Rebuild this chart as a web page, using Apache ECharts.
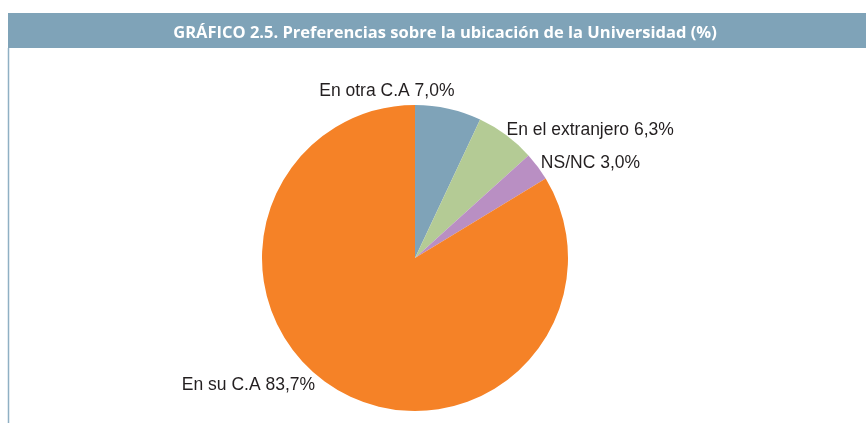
<!DOCTYPE html>
<html>
<head>
<meta charset="utf-8">
<script src="https://cdn.jsdelivr.net/npm/echarts@6/dist/echarts.min.js"></script>
<style>
  html, body { margin: 0; padding: 0; background: #fff; }
  #chart { width: 866px; height: 423px; }
</style>
</head>
<body>
<div id="chart"></div>
<script>
// data
var categories = ['En otra C.A', 'En el extranjero', 'NS/NC', 'En su C.A'];
var values = [7.0, 6.3, 3.0, 83.7];
var colors = ['#7fa3b8', '#b4cb95', '#b98fc3', '#f58227'];

// nudges for the labels, so they sit like in the original
var labelNudge = [[-135, -14], [-7, -2], [-5, -1], [-18, -10]];

var chart = echarts.init(document.getElementById('chart'));

var pieData = categories.map(function (c, i) {
  return { name: c, value: values[i], itemStyle: { color: colors[i] } };
});

chart.setOption({
  animation: false,
  title: {
    text: 'GRÁFICO 2.5. Preferencias sobre la ubicación de la Universidad (%)',
    left: 440,
    top: 20,
    textAlign: 'center',
    textStyle: {
      color: '#fff',
      fontFamily: 'Open Sans, sans-serif',
      fontWeight: 'bold',
      fontSize: 16.5
    }
  },
  graphic: [
    { type: 'rect', z: -1, shape: { x: 8, y: 13, width: 858, height: 35 }, style: { fill: '#7fa3b8' } },
    { type: 'line', shape: { x1: 8.5, y1: 48, x2: 8.5, y2: 423 }, style: { stroke: '#8fb0c4', lineWidth: 1.5 } }
  ],
  series: [{
    type: 'pie',
    center: [415, 258],
    radius: 153,
    startAngle: 90,
    clockwise: true,
    avoidLabelOverlap: false,
    data: pieData,
    label: {
      show: true,
      position: 'outside',
      formatter: function (p) {
        return p.name + ' ' + p.value.toFixed(1).replace('.', ',') + '%';
      },
      color: '#231f20',
      fontSize: 17.5,
      fontFamily: 'Liberation Sans, sans-serif'
    },
    labelLine: { show: false, length: 4, length2: 0 },
    labelLayout: function (p) {
      var n = labelNudge[p.dataIndex];
      return { dx: n[0], dy: n[1] };
    }
  }]
});
</script>
</body>
</html>
